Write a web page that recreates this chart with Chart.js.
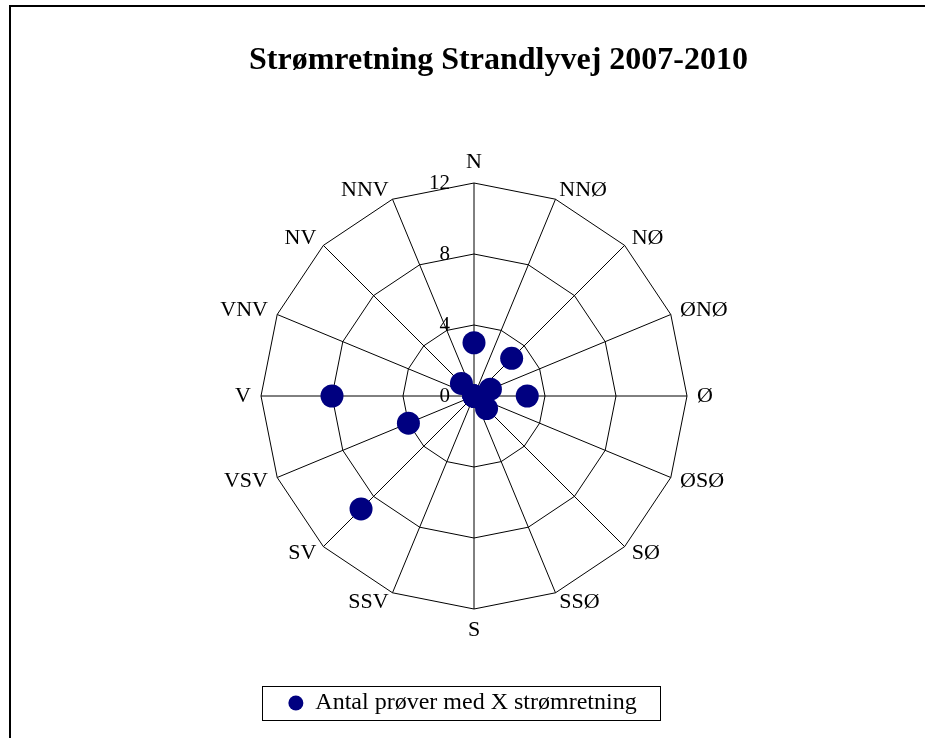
<!DOCTYPE html>
<html>
<head>
<meta charset="utf-8">
<script src="https://cdn.jsdelivr.net/npm/chart.js@4"></script>
<style>
    body { margin: 0; background: #fff; }
    #wrap { width: 925px; height: 738px; position: relative; }
</style>
</head>
<body>
<div id="wrap"><canvas id="myChart" width="925" height="738"></canvas></div>
<script>
const directions = ['N', 'NNØ', 'NØ', 'ØNØ', 'Ø', 'ØSØ', 'SØ', 'SSØ', 'S', 'SSV', 'SV', 'VSV', 'V', 'VNV', 'NV', 'NNV'];
const counts = [3, 0, 3, 1, 3, 0, 1, 0, 0, 0, 9, 4, 8, 0, 1, 0];
const tickValues = [0, 4, 8, 12];

const serif = "'Liberation Serif', 'Times New Roman', serif";

// frame, legend box, Excel-style point labels and tick labels,
// plus small nudges for title / legend the way Excel had them
const extras = {
    id: 'extras',
    afterLayout(chart) {
        const t = chart.titleBlock;
        t.left += 24; t.right += 24;
        const lg = chart.legend;
        lg.left -= 12; lg.right -= 12;
        lg.top += 72; lg.bottom += 72;
    },
    afterDraw(chart) {
        const ctx = chart.ctx;
        const r = chart.scales.r;
        ctx.save();
        ctx.strokeStyle = '#000';
        ctx.lineWidth = 2;
        ctx.beginPath();
        ctx.moveTo(10, 740);
        ctx.lineTo(10, 6);
        ctx.lineTo(926, 6);
        ctx.stroke();

        ctx.lineWidth = 1;
        ctx.strokeRect(262.5, 686.5, 398, 34);

        ctx.fillStyle = '#000';
        ctx.font = '22px ' + serif;
        const outer = r.getDistanceFromCenterForValue(r.max) + 10;
        directions.forEach((lab, i) => {
            const p = r.getPointPosition(i, outer);
            const dx = p.x - r.xCenter;
            ctx.textAlign = Math.abs(dx) < 1 ? 'center' : (dx > 0 ? 'left' : 'right');
            if (i === 0) ctx.textBaseline = 'bottom';
            else if (i === directions.length / 2) ctx.textBaseline = 'top';
            else ctx.textBaseline = 'middle';
            ctx.fillText(lab, p.x, p.y);
        });

        ctx.font = '21px ' + serif;
        ctx.textAlign = 'right';
        ctx.textBaseline = 'middle';
        tickValues.forEach(v => {
            const d = r.getDistanceFromCenterForValue(v);
            ctx.fillText(String(v), r.xCenter - 24, r.yCenter - d);
        });
        ctx.restore();
    }
};

new Chart(document.getElementById('myChart'), {
    type: 'radar',
    data: {
        labels: directions,
        datasets: [{
            label: 'Antal prøver med X strømretning',
            data: counts,
            showLine: false,
            borderWidth: 0,
            borderColor: '#000080',
            backgroundColor: '#000080',
            pointBackgroundColor: '#000080',
            pointBorderColor: '#000080',
            pointRadius: 11.5,
            pointHoverRadius: 11.5,
            fill: false
        }]
    },
    options: {
        responsive: false,
        animation: false,
        layout: { padding: { left: 24, right: 0, top: 0, bottom: 85 } },
        scales: {
            r: {
                min: 0,
                max: 12,
                ticks: { stepSize: 4, display: false },
                grid: { color: '#000', lineWidth: 1 },
                angleLines: { color: '#000', lineWidth: 1 },
                pointLabels: { display: false }
            }
        },
        plugins: {
            title: {
                display: true,
                text: 'Strømretning Strandlyvej 2007-2010',
                color: '#000',
                padding: { top: 42, bottom: 102.6 },
                font: { family: serif, size: 32, weight: 'bold' }
            },
            legend: {
                position: 'bottom',
                labels: {
                    usePointStyle: true,
                    pointStyle: 'circle',
                    boxHeight: 10.6,
                    pointStyleWidth: 15,
                    color: '#000',
                    padding: 10,
                    font: { family: serif, size: 24 }
                }
            },
            tooltip: { enabled: false }
        }
    },
    plugins: [extras]
});
</script>
</body>
</html>
